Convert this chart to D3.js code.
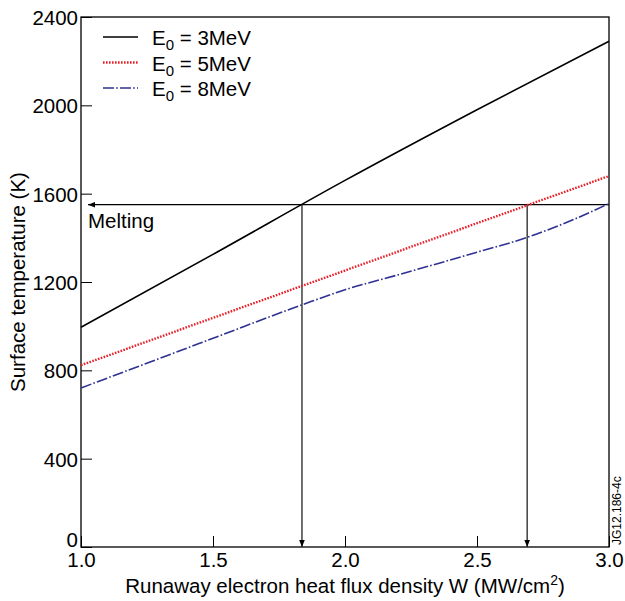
<!DOCTYPE html>
<html>
<head>
  <style>
    body, html { margin: 0; padding: 0; background: #fff; }
    text { font-family: "Liberation Sans", Arial, sans-serif; }
  </style>
</head>
<body>
  <svg id="svg" width="625" height="601"></svg>
  <script src="https://d3js.org/d3.v7.min.js"></script>
  <script>
    // values
    const flux3 = [1.0, 1.5, 2.0, 2.5, 3.0]
    const temp3 = [995, 1325, 1660, 1980, 2290]
    const flux5 = [1.0, 2.0, 3.0]
    const temp5 = [823, 1252, 1680]
    const flux8 = [1.0, 1.5, 1.84, 2.0, 2.2, 2.5, 2.69, 2.85, 3.0]
    const temp8 = [720, 945, 1098, 1165, 1232, 1335, 1402, 1475, 1555]
    const seriesNames = ["3MeV", "5MeV", "8MeV"]
    const meltTemp = 1550
    const meltFlux = [1.837, 2.69]
    const xTicks = [1.0, 1.5, 2.0, 2.5, 3.0]
    const yTicks = [0, 400, 800, 1200, 1600, 2000, 2400]

    const plotLeft = 81, plotRight = 609, plotTop = 17, plotBottom = 547
    const fontSize = 20.5
    const svg = d3.select("#svg")

    const x = d3.scaleLinear().domain([1, 3]).range([plotLeft, plotRight])
    const y = d3.scaleLinear().domain([0, 2400]).range([plotBottom, plotTop])

    const defs = svg.append("defs")
    defs.append("marker")
      .attr("id", "arrow")
      .attr("viewBox", "0 0 10 10")
      .attr("refX", 10).attr("refY", 5)
      .attr("markerWidth", 7).attr("markerHeight", 7)
      .attr("markerUnits", "userSpaceOnUse")
      .attr("orient", "auto")
      .append("path")
      .attr("d", "M0,1 L10,5 L0,9 Z")
      .attr("fill", "#000")

    // axes with inward ticks
    const xAxis = svg.append("g")
      .attr("transform", `translate(0,${plotBottom})`)
      .call(d3.axisBottom(x).tickValues(xTicks).tickSize(-11).tickPadding(5)
        .tickFormat(d3.format(".1f")))
    xAxis.select(".domain").remove()
    xAxis.selectAll("text").attr("font-size", fontSize).attr("fill", "#000").attr("dy", "0.71em")
    xAxis.selectAll("line").attr("stroke", "#000")

    const yAxis = svg.append("g")
      .attr("transform", `translate(${plotLeft},0)`)
      .call(d3.axisLeft(y).tickValues(yTicks).tickSize(-11).tickPadding(3)
        .tickFormat(d3.format("d")))
    yAxis.select(".domain").remove()
    yAxis.selectAll("text").attr("font-size", fontSize).attr("fill", "#000")
      .attr("dy", d => d === 0 ? "-0.02em" : "0.36em")
    yAxis.selectAll("line").attr("stroke", "#000")

    // frame
    svg.append("rect")
      .attr("x", plotLeft).attr("y", plotTop)
      .attr("width", plotRight - plotLeft).attr("height", plotBottom - plotTop)
      .attr("fill", "none").attr("stroke", "#000").attr("stroke-width", 1.3)

    // melting lines
    svg.append("line")
      .attr("x1", x(3)).attr("x2", x(1) + 7)
      .attr("y1", y(meltTemp)).attr("y2", y(meltTemp))
      .attr("stroke", "#000").attr("stroke-width", 1.3)
      .attr("marker-end", "url(#arrow)")
    svg.selectAll(".drop")
      .data(meltFlux)
      .enter().append("line")
      .attr("x1", d => x(d)).attr("x2", d => x(d))
      .attr("y1", y(meltTemp)).attr("y2", y(0))
      .attr("stroke", "#222").attr("stroke-width", 1.3)
      .attr("marker-end", "url(#arrow)")
    svg.append("text")
      .attr("x", 88).attr("y", 228)
      .attr("font-size", fontSize)
      .text("Melting")

    const styles = [
      { color: "#000", width: 1.6, dash: null },
      { color: "#e8202a", width: 2.4, dash: "1.6,1.4" },
      { color: "#2e3192", width: 1.6, dash: "11,2.2,1.6,2.2" }
    ]
    const data = [
      flux3.map((f, i) => [f, temp3[i]]),
      flux5.map((f, i) => [f, temp5[i]]),
      flux8.map((f, i) => [f, temp8[i]])
    ]

    const lineGen = d3.line()
      .x(d => x(d[0]))
      .y(d => y(d[1]))
      .curve(d3.curveMonotoneX)

    svg.append("g")
      .selectAll("path")
      .data(data)
      .enter().append("path")
      .attr("d", d => lineGen(d))
      .attr("fill", "none")
      .attr("stroke", (d, i) => styles[i].color)
      .attr("stroke-width", (d, i) => styles[i].width)
      .attr("stroke-dasharray", (d, i) => styles[i].dash)

    // legend
    const legend = svg.append("g")
    seriesNames.forEach((name, i) => {
      const ly = 37 + i * 25.5
      legend.append("line")
        .attr("x1", 103).attr("x2", 138)
        .attr("y1", ly).attr("y2", ly)
        .attr("stroke", styles[i].color)
        .attr("stroke-width", styles[i].width)
        .attr("stroke-dasharray", styles[i].dash)
      const t = legend.append("text")
        .attr("x", 152).attr("y", ly + 8)
        .attr("font-size", fontSize)
      t.append("tspan").text("E")
      t.append("tspan").attr("font-size", 15).attr("dy", 5).text("0")
      t.append("tspan").attr("dy", -5).text(" = " + name)
    })

    // axis titles
    const xt = svg.append("text")
      .attr("x", (plotLeft + plotRight) / 2).attr("y", 593)
      .attr("text-anchor", "middle")
      .attr("font-size", fontSize)
    xt.append("tspan").text("Runaway electron heat flux density W (MW/cm")
    xt.append("tspan").attr("font-size", 14).attr("dy", -8).text("2")
    xt.append("tspan").attr("dy", 8).text(")")

    svg.append("text")
      .attr("transform", `translate(25,${(plotTop + plotBottom) / 2}) rotate(-90)`)
      .attr("text-anchor", "middle")
      .attr("font-size", fontSize)
      .text("Surface temperature (K)")

    svg.append("text")
      .attr("transform", `translate(621,${plotBottom - 2}) rotate(-90)`)
      .attr("font-size", 12)
      .text("JG12.186-4c")
  </script>
</body>
</html>
